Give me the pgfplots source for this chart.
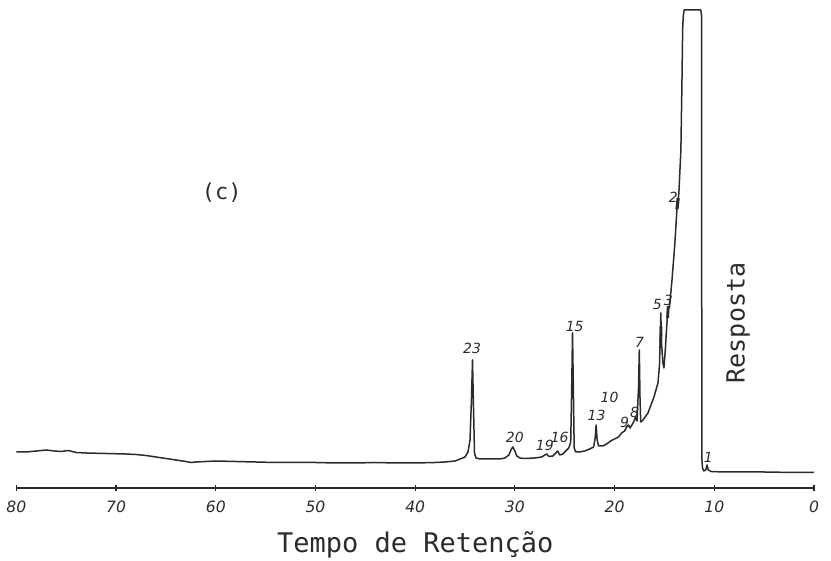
\documentclass[border=0pt]{standalone}
\usepackage{pgfplots}
\pgfplotsset{compat=1.18}
\usepackage{fontspec}
\setmainfont{DejaVu Sans}
\setmonofont{DejaVu Sans Mono}
\definecolor{ink}{HTML}{2B2B2B}
\begin{document}
\begin{tikzpicture}
\useasboundingbox (0,0) rectangle (415.5pt,280.5pt);
\begin{axis}[
 at={(8.2pt,36.5pt)}, anchor=south west,
 scale only axis, width=398.8pt, height=239pt,
 xmin=0, xmax=80, ymin=0, ymax=478, x dir=reverse,
 axis x line=bottom, axis y line=none,
 x axis line style={-, line width=0.9pt, draw=ink},
 xtick={0,10,...,80}, tick align=center, major tick length=3pt,
 xtick style={draw=ink, line width=0.6pt},
 xticklabel style={font=\fontsize{7.8}{9}\selectfont\itshape, text=ink, yshift=-1.5pt},
 /pgf/number format/assume math mode=true,
 xlabel={Tempo de Retenção},
 xlabel style={font=\ttfamily\fontsize{13.5}{15}\selectfont, text=ink, at={(axis description cs:0.5,0)}, anchor=center, yshift=-28.5pt},
 clip=false,
]
\addplot[ink, line width=0.75pt, line join=round] coordinates {
(80,36) (79,36) (78,37) (77,38) (76.2,37) (75.5,36.5) (74.8,37.5) (74,35.5) (73,35) (71,34.5)
(69,34) (68,33.5) (67,32.5) (66,31) (65,29.5) (64,28) (63,26.5) (62.5,25.5) (62,26) (61,26.5)
(60,27) (58,26.5) (56,26) (54,25.5) (52,25.5) (50,25.5) (48,25) (46,25) (44,25.5) (42,25)
(40,25) (38,25.5) (37,26) (36,27) (35.5,29) (35,31) (34.7,36) (34.5,48) (34.35,90) (34.25,128)
(34.15,80) (34.05,35) (33.9,30) (33.5,29) (32.5,29) (31.5,29) (31,30) (30.6,33) (30.35,39) (30.2,41)
(30.05,38) (29.8,32) (29.5,30) (29,29.5) (28,30) (27.3,31) (27,33) (26.8,34) (26.6,31.5) (26.2,32)
(25.9,35) (25.7,37) (25.5,33) (25.2,34) (24.9,37) (24.6,40) (24.4,46) (24.3,100) (24.22,155) (24.15,110)
(24.05,40) (23.9,36) (23.5,36) (23,37) (22.5,39) (22.1,41) (21.95,50) (21.85,63) (21.75,48) (21.6,42)
(21.2,42) (20.8,44) (20.4,47) (20,49) (19.6,51) (19.3,55) (19,57) (18.8,61) (18.6,63) (18.45,60)
(18.2,64) (18.0,68) (17.9,71) (17.75,67) (17.6,100) (17.52,138) (17.45,90) (17.38,66) (17.15,68) (16.65,75)
(16.05,91) (15.65,105) (15.5,122) (15.42,150) (15.36,175) (15.3,145) (15.15,125) (15.05,120) (14.9,140) (14.75,165)
(14.64,181) (14.5,180) (14.24,208) (13.95,245) (13.75,278) (13.55,295) (13.35,338) (13.25,400) (13.17,460) (13.1,473)
(13.02,478) (11.35,478) (11.27,472) (11.25,30) (11.18,20) (11.05,17) (10.85,18) (10.73,23) (10.6,18) (10.3,16.5)
(9,16) (5,16) (2,15.5) (0,15.5)
};
\addplot[ink, line width=1.6pt] coordinates {(13.74,279) (13.62,290)};
\addplot[ink, line width=1.4pt] coordinates {(14.68,170) (14.62,182)};
\addplot[ink, line width=1.4pt] coordinates {(15.38,140) (15.34,162)};
\tikzset{pk/.style={font=\fontsize{7}{8}\selectfont\itshape, text=ink, inner sep=0.5pt}}
\node[pk] at (axis cs:34.3,140) {23};
\node[pk] at (axis cs:30.0,51) {20};
\node[pk] at (axis cs:27.0,43) {19};
\node[pk] at (axis cs:25.5,51) {16};
\node[pk] at (axis cs:24.0,161) {15};
\node[pk] at (axis cs:21.8,73) {13};
\node[pk] at (axis cs:20.5,91) {10};
\node[pk] at (axis cs:19.0,66) {9};
\node[pk] at (axis cs:18.0,76) {8};
\node[pk] at (axis cs:17.5,146) {7};
\node[pk] at (axis cs:15.7,183) {5};
\node[pk] at (axis cs:14.6,188) {3};
\node[pk] at (axis cs:14.1,291) {2};
\node[pk] at (axis cs:10.6,31) {1};
\node[rotate=90, font=\ttfamily\fontsize{12.5}{14}\selectfont, text=ink] at (axis cs:7.6,165) {Resposta};
\node[font=\ttfamily\fontsize{11}{13}\selectfont, text=ink] at (axis cs:59.4,295) {(c)};
\end{axis}
\end{tikzpicture}
\end{document}
